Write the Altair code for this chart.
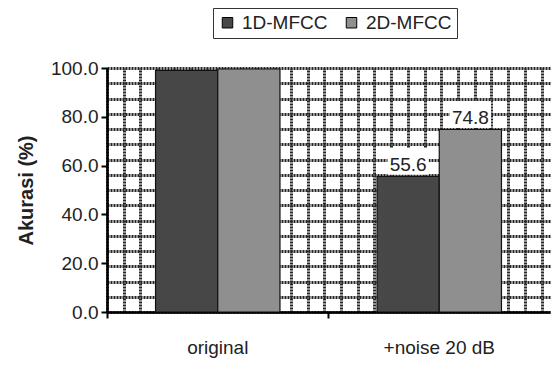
import altair as alt
import pandas as pd

categories = ["original", "+noise 20 dB"]
series = ["1D-MFCC", "2D-MFCC"]
values_1d = [99.0, 55.6]
values_2d = [99.6, 74.8]
labeled_category = "+noise 20 dB"
y_ticks = [0, 20, 40, 60, 80, 100]
grid_cols = 26.5
grid_rows = 16

rows = []
for i, c in enumerate(categories):
    rows.append({"category": c, "series": series[0], "value": values_1d[i]})
    rows.append({"category": c, "series": series[1], "value": values_2d[i]})
df = pd.DataFrame(rows)
lab = df[df["category"] == labeled_category].copy()
lab["text"] = lab["value"].map(lambda v: f"{v:.1f}")

FONT = "Liberation Sans"
GRIDC = "#262626"

# hatched background grid
grid_df = pd.DataFrame({"gx": [0], "gy": [0]})
grid = alt.Chart(grid_df).mark_point(opacity=0).encode(
    x=alt.X("gx:Q", scale=alt.Scale(domain=[0, grid_cols], nice=False, zero=False),
            axis=alt.Axis(orient="top", values=list(range(0, 27)), labels=False, ticks=False,
                          domain=False, grid=True, gridColor=GRIDC, gridWidth=3,
                          gridDash=[2, 1], gridOpacity=1, title=None)),
    y=alt.Y("gy:Q", scale=alt.Scale(domain=[0, grid_rows], nice=False, zero=False),
            axis=alt.Axis(orient="right", values=list(range(0, grid_rows + 1)), labels=False,
                          ticks=False, domain=False, grid=True, gridColor=GRIDC, gridWidth=3,
                          gridDash=[2, 1], gridOpacity=1, title=None)),
)

xenc = alt.X("category:N", sort=categories,
             scale=alt.Scale(domain=categories, paddingInner=0, paddingOuter=0),
             axis=alt.Axis(title=None, labelAngle=0, bandPosition=0, tickSize=6, tickWidth=2,
                           tickColor="black", domainColor="black", domainWidth=2.5,
                           labelFontSize=19, labelFont=FONT, labelColor="#222",
                           labelPadding=20, grid=False))
xoff = alt.XOffset("series:N", sort=series,
                   scale=alt.Scale(domain=series, paddingInner=0, paddingOuter=0.78))
yenc = alt.Y("value:Q", scale=alt.Scale(domain=[0, 100], nice=False),
             axis=alt.Axis(title="Akurasi (%)", values=y_ticks, format=".1f", grid=False,
                           tickSize=6, tickWidth=2, tickColor="black", domainColor="black",
                           domainWidth=2.5, labelFontSize=19, labelFont=FONT, labelColor="#222",
                           labelPadding=3, titleFont=FONT, titleFontSize=20,
                           titleFontWeight="bold", titleColor="#222", titlePadding=14))

bars = alt.Chart(df).mark_bar(stroke="#111", strokeWidth=1.2).encode(
    x=xenc, xOffset=xoff, y=yenc,
    color=alt.Color("series:N", sort=series,
                    scale=alt.Scale(domain=series, range=["#474747", "#8f8f8f"]),
                    legend=alt.Legend(title=None, orient="none", legendX=106, legendY=-60,
                                      direction="horizontal", columns=2, symbolType="square",
                                      symbolSize=110, symbolStrokeColor="black",
                                      symbolStrokeWidth=1, labelFontSize=19, labelFont=FONT,
                                      labelColor="#222", strokeColor="#333", padding=5,
                                      columnPadding=14, labelOffset=5, fillColor="white")),
)

boxes = alt.Chart(lab).mark_point(
    shape="M-1,-0.65H1V0.65H-1Z", filled=True, fill="white", opacity=1, size=1700, yOffset=-15
).encode(x=xenc, xOffset=xoff, y=yenc)

texts = alt.Chart(lab).mark_text(
    baseline="alphabetic", dy=-5, fontSize=19, font=FONT, color="#222"
).encode(x=xenc, xOffset=xoff, y=yenc, text="text:N")

main = alt.layer(bars, boxes, texts)

chart = alt.layer(grid, main).resolve_scale(x="independent", y="independent").properties(
    width=443, height=244,
    autosize=alt.AutoSizeParams(type="none"),
    padding={"left": 107, "top": 68, "right": 2, "bottom": 63},
    background="white",
).configure_view(stroke=None)

chart.save("out.html", embed_options={"renderer": "svg", "actions": False})
